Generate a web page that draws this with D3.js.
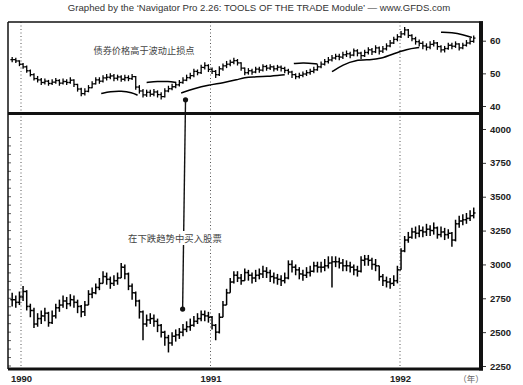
<!DOCTYPE html>
<html><head><meta charset="utf-8">
<script src="https://cdn.jsdelivr.net/npm/d3@7"></script>
<style>body{margin:0;background:#fff}svg{display:block}</style>
</head><body>
<script>
// ---- data (weekly bars, first week ending 1989-12-15) ----
const startDate = new Date(1989, 11, 15);
const bondClose = [54.2,53.8,52.8,52.0,50.8,49.6,48.4,48.0,47.2,47.6,46.9,47.3,47.8,47.0,47.5,47.2,47.9,46.6,45.2,43.8,44.5,45.6,46.8,48.0,47.6,48.6,48.8,49.2,48.5,48.9,48.2,48.7,48.4,49.0,45.8,44.6,43.4,44.2,43.6,44.3,43.5,42.9,44.6,45.3,45.9,46.5,47.2,47.9,48.7,49.3,50.6,50.2,51.8,52.4,51.2,50.6,49.6,51.4,52.3,52.8,53.4,53.9,53.2,51.6,50.2,50.8,50.4,51.3,51.0,52.1,51.6,52.0,51.4,51.9,51.5,50.9,50.4,49.6,49.0,49.4,49.8,50.2,50.6,51.1,52.0,52.8,53.6,54.1,54.7,55.2,55.0,55.7,56.0,55.6,56.9,56.2,55.4,56.4,57.2,56.6,57.8,56.8,57.5,58.4,59.3,60.4,61.2,62.1,63.3,61.6,60.6,59.7,59.2,58.4,58.0,58.9,59.3,58.2,57.2,57.6,58.6,58.3,59.0,57.8,58.6,59.3,59.8,60.8];
const bondHigh = [55.0,54.8,54.0,53.2,52.4,51.2,50.0,49.2,48.6,48.4,48.0,48.2,48.6,48.2,48.4,48.2,48.8,48.2,46.8,45.6,45.4,46.4,47.6,48.8,48.8,49.4,49.8,50.0,49.8,49.6,49.4,49.6,49.4,49.8,49.2,46.4,45.2,45.0,45.0,45.2,44.8,44.2,45.4,46.2,46.8,47.4,48.0,48.8,49.6,50.2,51.4,51.2,52.6,53.4,52.8,51.8,51.0,52.2,53.0,53.8,54.2,54.8,54.4,53.4,51.8,51.6,51.4,52.0,52.0,52.8,52.6,52.8,52.4,52.6,52.4,52.0,51.4,50.8,50.0,50.2,50.6,51.0,51.4,52.0,52.8,53.6,54.4,55.0,55.6,56.0,56.0,56.6,57.0,56.6,57.6,57.4,56.6,57.2,58.0,57.8,58.6,58.2,58.4,59.2,60.2,61.2,62.0,63.0,64.2,63.6,62.0,61.2,60.4,59.8,59.2,59.8,60.2,59.6,58.6,58.4,59.4,59.4,59.8,59.2,59.4,60.2,60.8,61.6];
const bondLow = [53.4,53.2,52.2,51.4,50.2,49.0,47.8,47.2,46.4,46.6,46.2,46.4,46.8,46.2,46.6,46.4,46.8,45.8,44.4,43.0,43.2,44.2,45.4,46.6,46.8,47.2,47.8,48.2,47.6,47.8,47.4,47.6,47.6,48.0,45.0,43.8,42.6,42.8,42.8,43.0,42.6,42.0,42.6,44.2,44.8,45.4,46.0,46.8,47.6,48.2,48.8,49.4,49.8,51.2,50.4,49.8,48.6,49.2,50.8,51.6,52.2,52.8,52.4,50.8,49.4,49.6,49.6,50.0,50.2,50.6,50.8,51.0,50.6,50.8,50.6,50.0,49.6,48.6,48.2,48.4,48.8,49.2,49.6,50.0,50.8,51.6,52.4,53.0,53.6,54.2,54.0,54.4,55.0,54.6,55.2,55.2,54.4,55.0,55.8,55.6,56.2,55.8,56.2,57.0,58.0,59.0,59.8,60.8,61.6,60.8,59.8,58.8,58.2,57.4,57.0,57.4,58.2,57.2,56.4,56.4,57.2,57.4,57.8,57.0,57.4,58.2,58.8,59.4];
const stockClose = [2740,2720,2760,2800,2690,2660,2560,2600,2620,2640,2570,2620,2680,2700,2730,2710,2740,2720,2690,2650,2700,2780,2790,2830,2860,2910,2890,2860,2880,2900,2980,2930,2840,2790,2730,2650,2560,2590,2600,2580,2550,2500,2460,2420,2470,2480,2500,2520,2540,2550,2580,2600,2630,2620,2610,2550,2500,2610,2700,2790,2870,2920,2900,2880,2940,2920,2900,2920,2930,2950,2940,2910,2900,2890,2880,2900,3000,2980,2960,2930,2920,2940,2950,2990,2980,2980,2990,3010,3020,3020,3010,2990,2990,2980,2960,2950,3030,3040,3030,3000,2990,2910,2880,2870,2860,2880,2960,3100,3180,3200,3240,3230,3250,3240,3260,3250,3270,3220,3240,3220,3230,3180,3300,3320,3330,3340,3360,3380];
const stockHigh = [2790,2770,2800,2840,2810,2710,2680,2640,2660,2680,2650,2660,2710,2740,2770,2760,2780,2770,2740,2700,2730,2810,2830,2860,2900,2950,2940,2910,2920,2940,3010,3000,2940,2860,2800,2740,2660,2630,2640,2630,2600,2560,2510,2480,2500,2520,2530,2560,2580,2600,2620,2640,2660,2660,2650,2620,2560,2640,2730,2820,2900,2950,2950,2930,2970,2960,2940,2960,2970,2990,2980,2960,2940,2930,2920,2940,3030,3030,3000,2980,2960,2980,2990,3020,3020,3020,3040,3060,3060,3060,3050,3040,3030,3020,3000,2990,3060,3070,3070,3050,3040,2990,2930,2910,2900,2920,2990,3120,3210,3240,3270,3280,3290,3280,3300,3290,3310,3280,3280,3270,3260,3240,3330,3360,3370,3380,3400,3420];
const stockLow = [2690,2680,2700,2730,2660,2610,2530,2540,2560,2580,2540,2560,2600,2650,2680,2670,2690,2680,2640,2610,2620,2700,2750,2780,2810,2860,2850,2820,2840,2850,2900,2890,2810,2740,2690,2600,2440,2540,2560,2540,2500,2460,2400,2350,2400,2430,2450,2470,2500,2510,2540,2560,2580,2580,2570,2520,2440,2490,2610,2700,2790,2860,2870,2850,2880,2880,2860,2870,2890,2900,2900,2870,2860,2850,2840,2860,2890,2940,2920,2890,2880,2900,2910,2940,2940,2940,2950,2970,2830,2980,2970,2950,2950,2940,2920,2910,2940,2990,2990,2960,2950,2880,2840,2830,2820,2840,2860,2960,3090,3160,3190,3190,3200,3200,3210,3210,3220,3190,3200,3180,3190,3130,3170,3270,3290,3300,3320,3340];
// volatility stop segments: [week index, bond price]
const stopSegments = [
  [[24.5,43.8],[27,44.4],[30,44.6],[33,44.1],[34.5,43.3]],
  [[37,47.2],[40,47.5],[43,47.6],[45,47.2]],
  [[46.5,44.0],[50,45.3],[54,46.4],[58,47.1],[62,48.1],[64,48.7],[66,48.9],[70,49.0],[75,49.6]],
  [[77.5,53.0],[80,53.3],[84,52.9]],
  [[88,50.5],[91,52.6],[94.5,54.1],[98.5,54.1],[101.5,54.5],[105,56.0],[108.5,57.4],[112,57.9]],
  [[118,62.6],[121,62.5],[124,61.9],[126.5,61.0]]
];
const bondTicks = [40, 50, 60];
const stockTicks = [2250, 2500, 2750, 3000, 3250, 3500, 3750, 4000];
const yearTicks = [1990, 1991, 1992];
const titleText = "Graphed by the \u2018Navigator Pro 2.26: TOOLS OF THE TRADE Module\u2019 \u2014 www.GFDS.com";
const noteBond = "债券价格高于波动止损点";
const noteStock = "在下跌趋势中买入股票";
const arrowTop = {week: 47.7, bond: 41.9};
const arrowBottom = {week: 46.9, stock: 2670};

// ---- layout ----
const W = 523, H = 385;
const L = 8, R = 481, T = 22, SEP = 113.5, B = 369;
const weekDate = i => new Date(startDate.getTime() + i * 7 * 864e5);

const svg = d3.select("body").append("svg").attr("width", W).attr("height", H)
  .style("font-family", "'Liberation Sans', Arial, sans-serif");

const x = d3.scaleTime().domain([new Date(1990,0,1), new Date(1992,0,1)]).range([21, 400]);
const yB = d3.scaleLinear().domain([40, 60]).range([106, 40.7]);
const yS = d3.scaleLinear().domain([2250, 4000]).range([366, 129]);

// title
svg.append("text").attr("x", 259).attr("y", 11).attr("text-anchor", "middle")
  .attr("font-size", 9.6).attr("fill", "#333").text(titleText);

// dotted year lines
svg.append("g").selectAll("line").data(yearTicks).join("line")
  .attr("x1", d => x(new Date(d,0,1))).attr("x2", d => x(new Date(d,0,1)))
  .attr("y1", T).attr("y2", B)
  .attr("stroke", "#555").attr("stroke-width", 1).attr("stroke-dasharray", "1,2.5");

// bars
function drawBars(close, high, low, y, sw) {
  const g = svg.append("g").attr("stroke", "#000").attr("stroke-width", sw);
  close.forEach((c, i) => {
    const cx = x(weekDate(i));
    const o = i > 0 ? close[i - 1] : c;
    g.append("line").attr("x1", cx).attr("x2", cx).attr("y1", y(high[i])).attr("y2", y(low[i]));
    g.append("line").attr("x1", cx - 1.8).attr("x2", cx).attr("y1", y(o)).attr("y2", y(o));
    g.append("line").attr("x1", cx).attr("x2", cx + 1.8).attr("y1", y(c)).attr("y2", y(c));
  });
}
drawBars(bondClose, bondHigh, bondLow, yB, 1.3);
drawBars(stockClose, stockHigh, stockLow, yS, 1.5);

// stop lines
const stopLine = d3.line().x(d => x(weekDate(d[0]))).y(d => yB(d[1])).curve(d3.curveBasis);
svg.append("g").selectAll("path").data(stopSegments).join("path")
  .attr("d", stopLine).attr("fill", "none").attr("stroke", "#000").attr("stroke-width", 1.5);

// annotations
const ax1 = x(weekDate(arrowTop.week)), ay1 = yB(arrowTop.bond);
const ax2 = x(weekDate(arrowBottom.week)), ay2 = yS(arrowBottom.stock);
svg.append("line").attr("x1", ax1).attr("y1", ay1).attr("x2", ax2).attr("y2", ay2)
  .attr("stroke", "#111").attr("stroke-width", 1.4);
svg.append("circle").attr("cx", ax1).attr("cy", ay1).attr("r", 2.6).attr("fill", "#111");
svg.append("circle").attr("cx", ax2).attr("cy", ay2).attr("r", 2.6).attr("fill", "#111");

const cjk = "'Noto Sans CJK SC', sans-serif";
svg.append("text").attr("x", 144).attr("y", 54).attr("text-anchor", "middle")
  .attr("font-family", cjk).attr("font-size", 9.2).attr("fill", "#444").text(noteBond);
svg.append("rect").attr("x", 126).attr("y", 231).attr("width", 98).attr("height", 14).attr("fill", "#fff");
svg.append("text").attr("x", 175).attr("y", 241.5).attr("text-anchor", "middle")
  .attr("font-family", cjk).attr("font-size", 9.4).attr("fill", "#444").text(noteStock);

// minor ticks on left edge of stock panel
svg.append("g").selectAll("line").data(d3.range(2250, 4000, 62.5)).join("line")
  .attr("x1", L).attr("x2", L + 3).attr("y1", d => yS(d)).attr("y2", d => yS(d))
  .attr("stroke", "#333").attr("stroke-width", 0.8);

// frame
svg.append("line").attr("x1", L).attr("x2", R + 2).attr("y1", T).attr("y2", T).attr("stroke", "#111").attr("stroke-width", 1.5);
svg.append("line").attr("x1", L).attr("x2", L).attr("y1", T).attr("y2", B).attr("stroke", "#111").attr("stroke-width", 1.5);
svg.append("line").attr("x1", L).attr("x2", R + 2).attr("y1", SEP).attr("y2", SEP).attr("stroke", "#111").attr("stroke-width", 3);
svg.append("line").attr("x1", L).attr("x2", R + 2).attr("y1", B).attr("y2", B).attr("stroke", "#111").attr("stroke-width", 3);
svg.append("line").attr("x1", R).attr("x2", R).attr("y1", T - 0.75).attr("y2", B + 1.5).attr("stroke", "#111").attr("stroke-width", 4);

// right axes
const axB = d3.axisRight(yB).tickValues(bondTicks).tickSize(3).tickPadding(4).tickFormat(d3.format("d"));
const axS = d3.axisRight(yS).tickValues(stockTicks).tickSize(3).tickPadding(4).tickFormat(d3.format("d"));
[[axB], [axS]].forEach(([a]) => {
  const g = svg.append("g").attr("transform", `translate(${R + 2},0)`).call(a);
  g.select(".domain").remove();
  g.selectAll("text").attr("font-size", 9.5).attr("font-weight", "bold").attr("fill", "#222")
    .style("font-family", "'Liberation Sans', Arial, sans-serif");
  g.selectAll("line").attr("stroke", "#333");
});

// bottom axis
const axX = d3.axisBottom(x).tickValues(yearTicks.map(d => new Date(d,0,1))).tickSize(0).tickPadding(6).tickFormat(d3.timeFormat("%Y"));
const gx = svg.append("g").attr("transform", `translate(0,${B})`).call(axX);
gx.select(".domain").remove();
gx.selectAll("text").attr("font-size", 9.5).attr("font-weight", "bold").attr("fill", "#222")
  .style("font-family", "'Liberation Sans', Arial, sans-serif");
svg.append("text").attr("x", 471).attr("y", 382).attr("text-anchor", "middle")
  .attr("font-family", cjk).attr("font-size", 8.5).attr("fill", "#666").text("（年）");
</script>
</body></html>
